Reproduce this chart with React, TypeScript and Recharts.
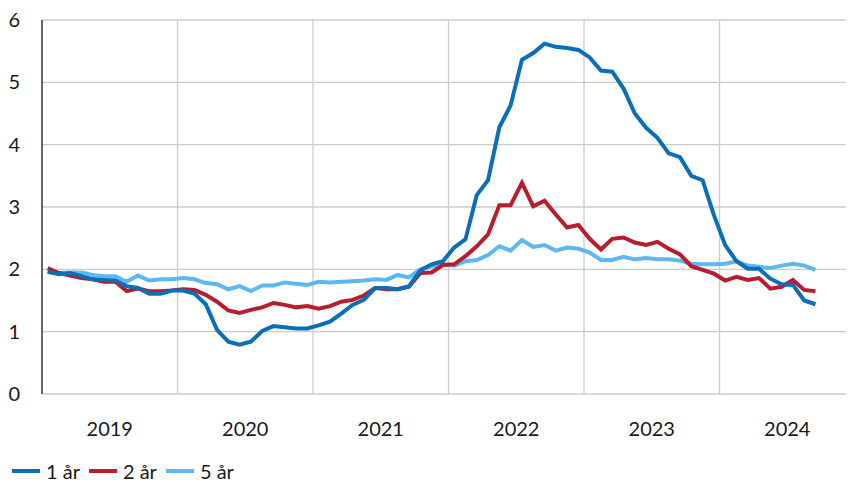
import { LineChart, Line, XAxis, YAxis, CartesianGrid, Legend } from 'recharts';

// Monthly observations, Jan 2019 - Sep 2024
const START_YEAR = 2019;
const yearLabels = ['2019', '2020', '2021', '2022', '2023', '2024'];
const yTicks = [0, 1, 2, 3, 4, 5, 6];

const oneYear = [
  1.96, 1.92, 1.94, 1.89, 1.84, 1.83, 1.82, 1.73, 1.7, 1.61, 1.61, 1.66,
  1.66, 1.61, 1.44, 1.03, 0.84, 0.79, 0.84, 1.01, 1.09, 1.07, 1.05, 1.05,
  1.1, 1.16, 1.29, 1.43, 1.51, 1.7, 1.7, 1.68, 1.73, 1.98, 2.08, 2.13,
  2.35, 2.48, 3.19, 3.43, 4.28, 4.63, 5.36, 5.47, 5.62, 5.57, 5.55, 5.52,
  5.4, 5.19, 5.17, 4.9, 4.5, 4.27, 4.11, 3.86, 3.8, 3.5, 3.43, 2.87,
  2.39, 2.13, 2.01, 2.01, 1.85, 1.76, 1.75, 1.5, 1.44,
];

const twoYear = [
  2.02, 1.94, 1.9, 1.86, 1.84, 1.8, 1.8, 1.65, 1.69, 1.65, 1.65, 1.66,
  1.68, 1.67, 1.59, 1.48, 1.34, 1.3, 1.35, 1.39, 1.46, 1.43, 1.39, 1.41,
  1.37, 1.41, 1.48, 1.51, 1.58, 1.7, 1.68, 1.68, 1.72, 1.94, 1.95, 2.07,
  2.08, 2.21, 2.37, 2.56, 3.03, 3.03, 3.39, 3.01, 3.1, 2.88, 2.67, 2.71,
  2.49, 2.32, 2.49, 2.51, 2.43, 2.39, 2.44, 2.33, 2.24, 2.05, 1.99, 1.93,
  1.82, 1.88, 1.83, 1.86, 1.69, 1.72, 1.83, 1.67, 1.65,
];

const fiveYear = [
  1.96, 1.94, 1.95, 1.95, 1.91, 1.89, 1.89, 1.8, 1.9, 1.82, 1.84, 1.84,
  1.86, 1.84, 1.78, 1.76, 1.68, 1.73, 1.65, 1.74, 1.74, 1.79, 1.77, 1.75,
  1.8, 1.79, 1.8, 1.81, 1.82, 1.84, 1.83, 1.91, 1.87, 2.0, 2.05, 2.08,
  2.06, 2.13, 2.15, 2.23, 2.37, 2.3, 2.47, 2.36, 2.39, 2.3, 2.35, 2.33,
  2.27, 2.15, 2.15, 2.2, 2.16, 2.18, 2.16, 2.16, 2.14, 2.09, 2.08, 2.08,
  2.09, 2.13, 2.06, 2.04, 2.02, 2.06, 2.09, 2.06, 1.99,
];

// x is measured in months since Jan 2019, points sit mid-month
const data = oneYear.map((v, i) => ({
  t: i + 0.5,
  month: `${START_YEAR + Math.floor(i / 12)}-${String((i % 12) + 1).padStart(2, '0')}`,
  y1: v,
  y2: twoYear[i],
  y5: fiveYear[i],
}));

const X_MAX = 71.2;
const yearStarts = yearLabels.slice(1).map((_, i) => (i + 1) * 12);
const yearMids = yearLabels.map((_, i) => i * 12 + 6);

const FONT = 'Lato, "Open Sans", sans-serif';
const TEXT = '#1a1a1a';
const C1 = '#0a6fb6';
const C2 = '#b71d2d';
const C5 = '#5db7f2';

const legendItems = [
  { name: '1 år', color: C1 },
  { name: '2 år', color: C2 },
  { name: '5 år', color: C5 },
];

function LegendRow() {
  return (
    <div style={{ display: 'flex', alignItems: 'center', fontSize: 20, fontFamily: FONT, color: TEXT, lineHeight: '20px', height: 20 }}>
      {legendItems.map((it) => (
        <span key={it.name} style={{ display: 'flex', alignItems: 'center', marginRight: 9 }}>
          <span style={{ display: 'inline-block', width: 28, height: 4, background: it.color, marginRight: 6 }} />
          <span style={{ whiteSpace: 'nowrap' }}>{it.name}</span>
        </span>
      ))}
    </div>
  );
}

export default function App() {
  return (
    <div style={{ position: 'absolute', left: 0, top: 0, width: 848, height: 482, background: '#fff', fontFamily: FONT }}>
      <LineChart width={848} height={482} data={data} margin={{ top: 20, right: 0, left: 0, bottom: 28 }}>
        <CartesianGrid
          yAxisId="l"
          stroke="#cccccc"
          strokeWidth={1.3}
          horizontalValues={yTicks}
          verticalValues={yearStarts}
        />
        <XAxis
          dataKey="t"
          type="number"
          domain={[0, X_MAX]}
          ticks={yearMids}
          tickFormatter={(v: number) => yearLabels[Math.floor(v / 12)]}
          axisLine={false}
          tickLine={false}
          tickMargin={22}
          tick={{ fontSize: 20, fill: TEXT, fontFamily: FONT }}
          height={60}
          allowDataOverflow
        />
        <YAxis
          yAxisId="l"
          domain={[0, 6]}
          ticks={yTicks}
          axisLine={false}
          tickLine={false}
          tickMargin={16}
          tick={{ fontSize: 20, fill: TEXT, fontFamily: FONT }}
          width={42}
        />
        <YAxis
          yAxisId="lt"
          domain={[0, 6]}
          ticks={yTicks}
          mirror
          width={12}
          tick={false}
          tickSize={10}
          tickLine={{ stroke: '#333', strokeWidth: 1.5 }}
          axisLine={{ stroke: '#333', strokeWidth: 1.5 }}
        />
        <YAxis
          yAxisId="r"
          orientation="right"
          domain={[0, 6]}
          ticks={yTicks}
          width={2}
          tick={false}
          tickSize={6}
          axisLine={false}
          tickLine={{ stroke: '#333', strokeWidth: 1.5 }}
        />
        <Legend
          layout="horizontal"
          verticalAlign="middle"
          align="center"
          content={() => <LegendRow />}
          wrapperStyle={{ left: 12, top: 461, width: 'auto', height: 20 }}
        />
        <Line yAxisId="l" dataKey="y5" name="5 år" stroke={C5} strokeWidth={4} dot={false} isAnimationActive={false} />
        <Line yAxisId="l" dataKey="y2" name="2 år" stroke={C2} strokeWidth={4} dot={false} isAnimationActive={false} />
        <Line yAxisId="l" dataKey="y1" name="1 år" stroke={C1} strokeWidth={4} dot={false} isAnimationActive={false} />
      </LineChart>
    </div>
  );
}
